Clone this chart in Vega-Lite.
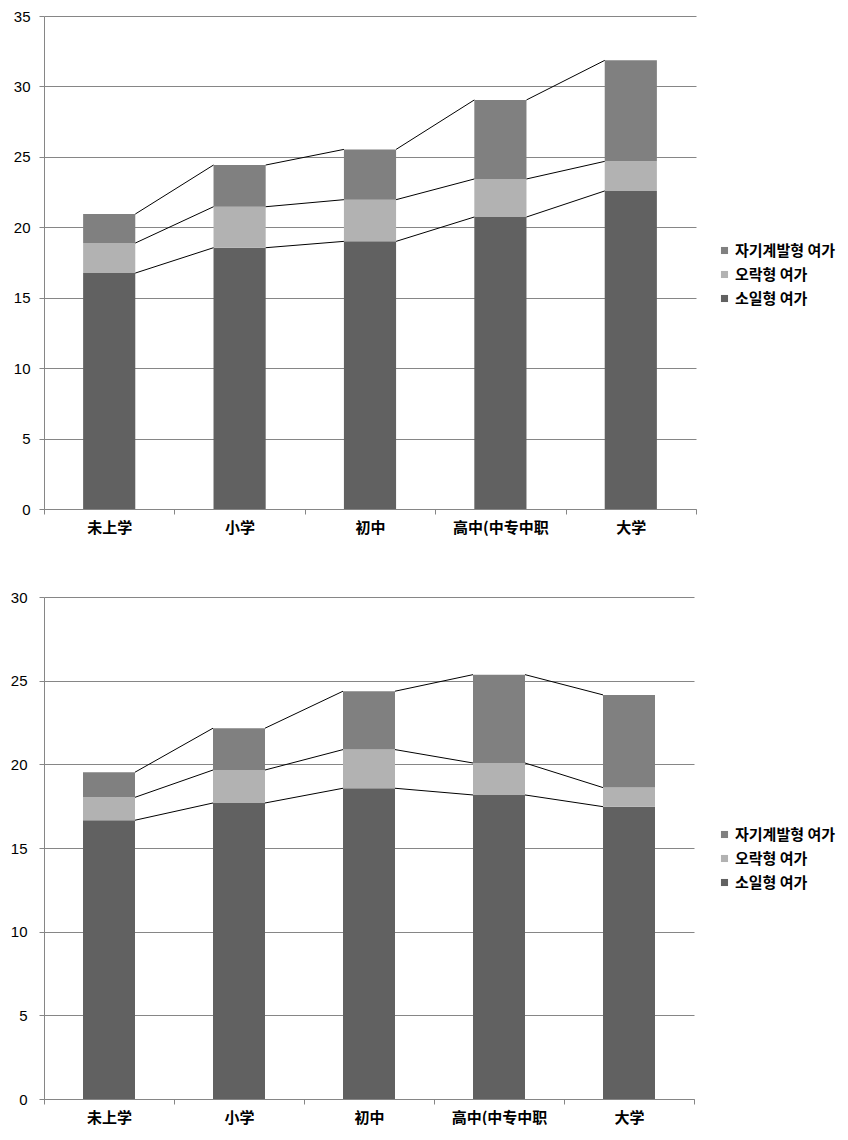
{
  "$schema": "https://vega.github.io/schema/vega-lite/v6.json",
  "background": "white",
  "padding": {"left": 10, "top": 9, "right": 0, "bottom": 0},
  "spacing": 55,
  "datasets": {
    "top": [
      {"edu": "未上学", "type": "소일형 여가", "value": 16.75},
      {"edu": "未上学", "type": "오락형 여가", "value": 2.13},
      {"edu": "未上学", "type": "자기계발형 여가", "value": 2.06},
      {"edu": "小学", "type": "소일형 여가", "value": 18.55},
      {"edu": "小学", "type": "오락형 여가", "value": 2.91},
      {"edu": "小学", "type": "자기계발형 여가", "value": 2.96},
      {"edu": "初中", "type": "소일형 여가", "value": 19.0},
      {"edu": "初中", "type": "오락형 여가", "value": 2.96},
      {"edu": "初中", "type": "자기계발형 여가", "value": 3.57},
      {"edu": "高中(中专中职", "type": "소일형 여가", "value": 20.73},
      {"edu": "高中(中专中职", "type": "오락형 여가", "value": 2.70},
      {"edu": "高中(中专中职", "type": "자기계발형 여가", "value": 5.61},
      {"edu": "大学", "type": "소일형 여가", "value": 22.58},
      {"edu": "大学", "type": "오락형 여가", "value": 2.10},
      {"edu": "大学", "type": "자기계발형 여가", "value": 7.17}
    ],
    "bottom": [
      {"edu": "未上学", "type": "소일형 여가", "value": 16.66},
      {"edu": "未上学", "type": "오락형 여가", "value": 1.37},
      {"edu": "未上学", "type": "자기계발형 여가", "value": 1.50},
      {"edu": "小学", "type": "소일형 여가", "value": 17.69},
      {"edu": "小学", "type": "오락형 여가", "value": 1.97},
      {"edu": "小学", "type": "자기계발형 여가", "value": 2.50},
      {"edu": "初中", "type": "소일형 여가", "value": 18.57},
      {"edu": "初中", "type": "오락형 여가", "value": 2.31},
      {"edu": "初中", "type": "자기계발형 여가", "value": 3.49},
      {"edu": "高中(中专中职", "type": "소일형 여가", "value": 18.17},
      {"edu": "高中(中专中职", "type": "오락형 여가", "value": 1.91},
      {"edu": "高中(中专中职", "type": "자기계발형 여가", "value": 5.28},
      {"edu": "大学", "type": "소일형 여가", "value": 17.47},
      {"edu": "大学", "type": "오락형 여가", "value": 1.14},
      {"edu": "大学", "type": "자기계발형 여가", "value": 5.54}
    ]
  },
  "config": {
    "view": {"stroke": null},
    "axisX": {
      "title": null, "labelAngle": 0, "labelFont": "Noto Sans CJK SC", "labelFontWeight": "bold",
      "labelFontSize": 15, "labelColor": "#000000", "tickBand": "extent", "tickSize": 5,
      "tickColor": "#868686", "domainColor": "#868686", "grid": false, "labelPadding": 6
    },
    "axisY": {
      "title": null, "grid": true, "gridColor": "#868686", "domainColor": "#868686",
      "tickColor": "#868686", "tickSize": 5, "labelFont": "Liberation Sans", "labelFontSize": 15,
      "labelColor": "#000000", "labelPadding": 9
    },
    "legend": {
      "title": null, "orient": "none", "symbolType": "square", "symbolSize": 50,
      "symbolStrokeWidth": 0, "labelFont": "Noto Sans CJK KR", "labelFontWeight": "bold",
      "labelFontSize": 15, "labelColor": "#000000", "rowPadding": 8, "labelOffset": 3
    }
  },
  "resolve": {"scale": {"color": "independent"}, "legend": {"color": "independent"}},
  "vconcat": [
    {
      "data": {"name": "top"},
      "width": 652,
      "height": 493,
      "transform": [
        {"window": [{"op": "row_number", "as": "idx"}], "groupby": ["type"]},
        {"stack": "value", "groupby": ["edu"], "sort": [{"field": "type"}], "as": ["y0", "y1"]},
        {"window": [{"op": "lead", "field": "edu", "as": "next_edu"}, {"op": "lead", "field": "y1", "as": "next_y1"}], "groupby": ["type"], "sort": [{"field": "idx"}]}
      ],
      "layer": [
        {
          "mark": {"type": "bar", "width": {"band": 0.4}},
          "encoding": {
            "x": {"field": "edu", "type": "nominal", "sort": ["未上学", "小学", "初中", "高中(中专中职", "大学"], "scale": {"domain": ["未上学", "小学", "初中", "高中(中专中职", "大学"], "paddingInner": 0, "paddingOuter": 0}},
            "y": {"field": "y1", "type": "quantitative", "scale": {"domain": [0, 35], "nice": false}, "axis": {"values": [0, 5, 10, 15, 20, 25, 30, 35]}},
            "y2": {"field": "y0"},
            "color": {"field": "type", "type": "nominal", "scale": {"domain": ["자기계발형 여가", "오락형 여가", "소일형 여가"], "range": ["#808080", "#b2b2b2", "#616161"]}, "legend": {"legendX": 673, "legendY": 227}}
          }
        },
        {
          "transform": [{"filter": "datum.next_edu != null"}],
          "mark": {"type": "rule", "color": "#000000", "strokeWidth": 1},
          "encoding": {
            "x": {"field": "edu", "type": "nominal", "sort": ["未上学", "小学", "初中", "高中(中专中职", "大学"], "bandPosition": 0.7},
            "x2": {"field": "next_edu", "bandPosition": 0.3},
            "y": {"field": "y1", "type": "quantitative"},
            "y2": {"field": "next_y1"}
          }
        }
      ]
    },
    {
      "data": {"name": "bottom"},
      "width": 650,
      "height": 502,
      "transform": [
        {"window": [{"op": "row_number", "as": "idx"}], "groupby": ["type"]},
        {"stack": "value", "groupby": ["edu"], "sort": [{"field": "type"}], "as": ["y0", "y1"]},
        {"window": [{"op": "lead", "field": "edu", "as": "next_edu"}, {"op": "lead", "field": "y1", "as": "next_y1"}], "groupby": ["type"], "sort": [{"field": "idx"}]}
      ],
      "layer": [
        {
          "mark": {"type": "bar", "width": {"band": 0.4}},
          "encoding": {
            "x": {"field": "edu", "type": "nominal", "sort": ["未上学", "小学", "初中", "高中(中专中职", "大学"], "scale": {"domain": ["未上学", "小学", "初中", "高中(中专中职", "大学"], "paddingInner": 0, "paddingOuter": 0}},
            "y": {"field": "y1", "type": "quantitative", "scale": {"domain": [0, 30], "nice": false}, "axis": {"values": [0, 5, 10, 15, 20, 25, 30], "labelPadding": 12}},
            "y2": {"field": "y0"},
            "color": {"field": "type", "type": "nominal", "scale": {"domain": ["자기계발형 여가", "오락형 여가", "소일형 여가"], "range": ["#808080", "#b2b2b2", "#616161"]}, "legend": {"legendX": 673, "legendY": 230}}
          }
        },
        {
          "transform": [{"filter": "datum.next_edu != null"}],
          "mark": {"type": "rule", "color": "#000000", "strokeWidth": 1},
          "encoding": {
            "x": {"field": "edu", "type": "nominal", "sort": ["未上学", "小学", "初中", "高中(中专中职", "大学"], "bandPosition": 0.7},
            "x2": {"field": "next_edu", "bandPosition": 0.3},
            "y": {"field": "y1", "type": "quantitative"},
            "y2": {"field": "next_y1"}
          }
        }
      ]
    }
  ]
}
